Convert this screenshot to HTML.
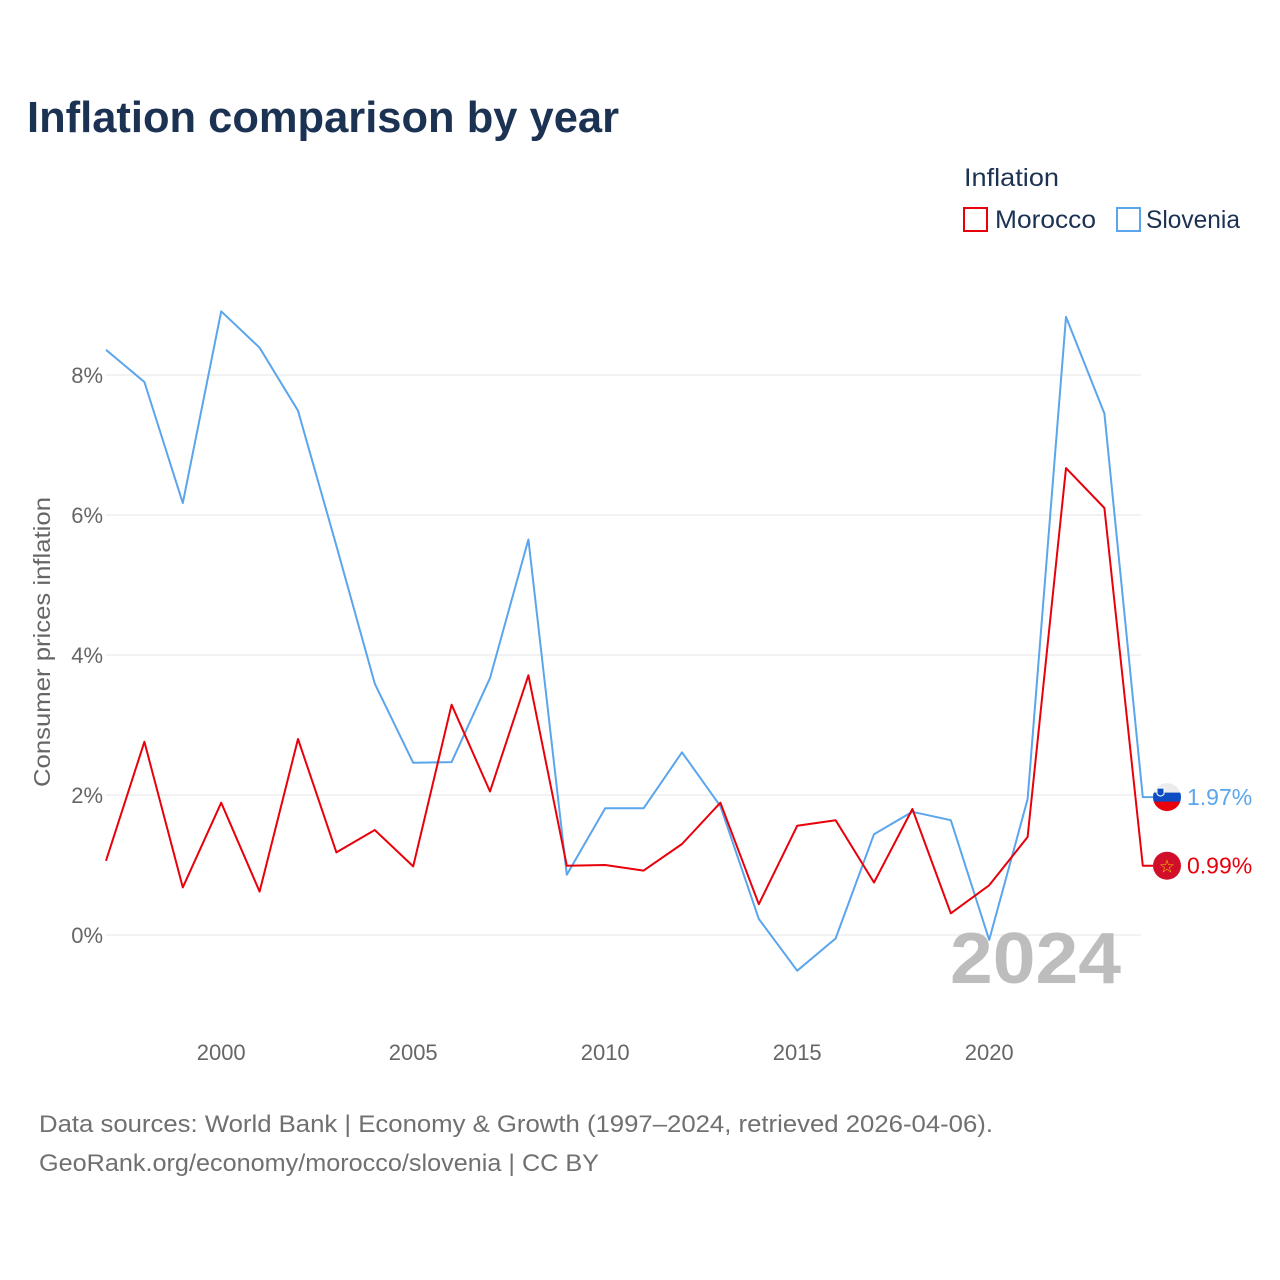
<!DOCTYPE html>
<html><head><meta charset="utf-8"><style>
body{margin:0;background:#fff;font-family:"Liberation Sans","DejaVu Sans",sans-serif;}
#wrap{position:relative;width:1280px;height:1280px;overflow:hidden;}
</style></head><body><div id="wrap">
<svg id="chart" width="1280" height="1280"></svg>
</div>
<script>
const years=[1997,1998,1999,2000,2001,2002,2003,2004,2005,2006,2007,2008,2009,2010,2011,2012,2013,2014,2015,2016,2017,2018,2019,2020,2021,2022,2023,2024];
const slovenia=[8.36,7.9,6.17,8.91,8.39,7.49,5.56,3.59,2.46,2.47,3.67,5.65,0.86,1.81,1.81,2.61,1.84,0.23,-0.51,-0.05,1.44,1.76,1.64,-0.07,1.94,8.83,7.45,1.97];
const morocco=[1.06,2.76,0.68,1.89,0.62,2.8,1.18,1.5,0.98,3.29,2.05,3.71,0.99,1.0,0.92,1.3,1.89,0.44,1.56,1.64,0.75,1.8,0.31,0.71,1.4,6.67,6.1,0.99];
const yTicks=[0,2,4,6,8];
const xTicks=[2000,2005,2010,2015,2020];
const NS="http://www.w3.org/2000/svg";
const svg=document.getElementById('chart');
const xs=y=>106+(y-1997)*38.4;
const ys=v=>935-v*70;
function mk(tag,attrs,parent){const e=document.createElementNS(NS,tag);for(const k in attrs)e.setAttribute(k,attrs[k]);(parent||svg).appendChild(e);return e;}
function txt(s,attrs){const t=mk('text',attrs);t.textContent=s;return t;}
let t=txt('Inflation comparison by year',{x:27,y:132,'font-size':44,'font-weight':'bold',fill:'#1b3253',textLength:592,lengthAdjust:'spacingAndGlyphs'});


t=txt('Inflation',{x:964,y:186,'font-size':25,fill:'#1b3253',textLength:95,lengthAdjust:'spacingAndGlyphs'});


let g=mk('g',{});


mk('rect',{x:964,y:208,width:23,height:23,fill:'none',stroke:'#e8000b','stroke-width':2},g);
let lt=mk('text',{x:995,y:228,'font-size':25,fill:'#1b3253',textLength:101,lengthAdjust:'spacingAndGlyphs'},g);lt.textContent='Morocco';
g=mk('g',{});


mk('rect',{x:1117,y:208,width:23,height:23,fill:'none',stroke:'#5aa5ec','stroke-width':2},g);
lt=mk('text',{x:1146,y:228,'font-size':25,fill:'#1b3253',textLength:94,lengthAdjust:'spacingAndGlyphs'},g);lt.textContent='Slovenia';
yTicks.forEach(v=>{
 const l=mk('line',{x1:106,x2:1141,y1:ys(v),y2:ys(v),stroke:'#e6e6e6','stroke-width':1});
 
 
 const tt=txt(v+'%',{x:103,y:ys(v)+8,'font-size':22,fill:'#666','text-anchor':'end'});
 
 
});
xTicks.forEach(v=>{
 const tt=txt(String(v),{x:xs(v),y:1060,'font-size':22,fill:'#666','text-anchor':'middle'});
 
 
});
t=txt('Consumer prices inflation',{x:0,y:0,'font-size':23,fill:'#666','text-anchor':'middle',transform:'translate(50,642) rotate(-90)',textLength:290,lengthAdjust:'spacingAndGlyphs'});


t=txt('2024',{x:950,y:983,'font-size':72,'font-weight':'bold',fill:'#bdbdbd',textLength:171,lengthAdjust:'spacingAndGlyphs'});


function series(vals,color,name){
 let d=vals.map((v,i)=>(i?'L':'M')+xs(years[i])+','+ys(v)).join(' ');
 d+=' L1153,'+ys(vals[vals.length-1]);
 const p=mk('path',{d:d,fill:'none',stroke:color,'stroke-width':2,'stroke-linejoin':'round'});
 
 
}
series(slovenia,'#5aa5ec','line-slovenia');
series(morocco,'#e8000b','line-morocco');
const sv=slovenia[slovenia.length-1], mv=morocco[morocco.length-1];
let fg=mk('g',{});


const defs=mk('defs',{});
const cp=mk('clipPath',{id:'cs'},defs);
mk('circle',{cx:1167,cy:ys(sv),r:14},cp);
const fl=mk('g',{'clip-path':'url(#cs)'},fg);
mk('rect',{x:1153,y:ys(sv)-14,width:28,height:10,fill:'#ececec'},fl);
mk('rect',{x:1153,y:ys(sv)-4.5,width:28,height:9.5,fill:'#0c4dc4'},fl);
mk('rect',{x:1153,y:ys(sv)+4.5,width:28,height:10,fill:'#e8000b'},fl);
mk('path',{d:`M1157,${ys(sv)-9} h7 v6 q-3.5,4 -7,0 z`,fill:'#0c4dc4',stroke:'#fff','stroke-width':1},fl);
fg=mk('g',{});


mk('circle',{cx:1167,cy:ys(mv),r:14,fill:'#d10f2a'},fg);
const st=mk('text',{x:1167,y:ys(mv)+7,'font-size':18,fill:'#f2c200','text-anchor':'middle'},fg);st.textContent='☆';
t=txt(sv.toFixed(2)+'%',{x:1187,y:ys(sv)+8,'font-size':23,fill:'#5aa5ec'});


t=txt(mv.toFixed(2)+'%',{x:1187,y:ys(mv)+8,'font-size':23,fill:'#e8000b'});


t=txt('Data sources: World Bank | Economy & Growth (1997–2024, retrieved 2026-04-06).',{x:39,y:1132,'font-size':24,fill:'#707070',textLength:954,lengthAdjust:'spacingAndGlyphs'});


t=txt('GeoRank.org/economy/morocco/slovenia | CC BY',{x:39,y:1171,'font-size':24,fill:'#707070',textLength:560,lengthAdjust:'spacingAndGlyphs'});


</script></body></html>
